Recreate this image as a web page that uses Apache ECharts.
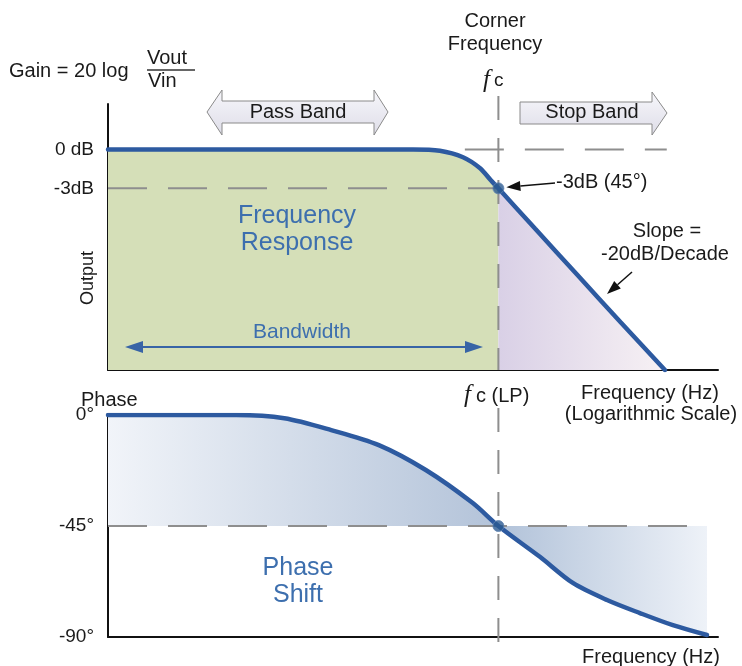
<!DOCTYPE html>
<html><head><meta charset="utf-8">
<script src="https://cdn.jsdelivr.net/npm/echarts@6/dist/echarts.min.js"></script>
<style>html,body{margin:0;padding:0;background:#fff}#c{width:742px;height:666px}</style>
</head><body><div id="c"></div>
<script>
// ---- Data (x = position on the logarithmic frequency axis, 0..100; corner frequency fc at 64)
const fc = 64;
const gainX   = [0, 50, 54.4, 58.2, 61.0, 62.8, 64, 70, 77, 84, 91.3];
const gainDb  = [0, 0, -0.1, -0.6, -1.45, -2.4, -3, -6.1, -9.7, -13.3, -17];
const phaseX  = [0, 21, 28.9, 36.6, 44.4, 52.1, 59.8, 64, 70.8, 76.2, 81.8, 87.2, 92.6, 98.2];
const phaseDeg= [0, 0, -1.3, -6.1, -12.2, -22.3, -35.7, -45, -57.5, -68.1, -75, -80.3, -85.2, -89.2];
const gainTicks = [0, -3];
const gainTickLabels = ['0 dB', '-3dB'];
const phaseTicks = [0, -45, -90];
const phaseTickLabels = ['0°', '-45°', '-90°'];
const cornerGain = -3, cornerPhase = -45;
const zeroDbRef = [58.5, 91.6];   // x extent of 0 dB reference
const phaseRefEnd = 98.2;

const FONT = '"Liberation Sans", Arial, sans-serif';
const BLUE = '#2d5aa0';
const TXT = '#1a1a1a';
const TBLUE = '#3d6fae';
const SM = 0.3;

const pair = (xs, ys) => xs.map((x, i) => [x, ys[i]]);
const gain = pair(gainX, gainDb);
const phase = pair(phaseX, phaseDeg);
const gainL = gain.filter(p => p[0] <= fc), gainR = gain.filter(p => p[0] >= fc);
const phaseL = phase.filter(p => p[0] <= fc), phaseR = phase.filter(p => p[0] >= fc);

const chart = echarts.init(document.getElementById('c'), null, {renderer: 'canvas'});
const axisLine = {show: true, onZero: false, lineStyle: {color: '#111', width: 2}};
const G = echarts.graphic.LinearGradient;
const dash = {color: '#8e8e8e', width: 2, type: [39, 21]};

chart.setOption({
  animation: false,
  backgroundColor: '#fff',
  grid: [
    {left: 108, top: 104, width: 610, height: 266},
    {left: 108, top: 415, width: 610, height: 222}
  ],
  xAxis: [0, 1].map(i => ({
    type: 'value', gridIndex: i, min: 0, max: 100, position: 'bottom',
    axisLine, axisTick: {show: false}, axisLabel: {show: false}, splitLine: {show: false}
  })),
  yAxis: [
    {type: 'value', gridIndex: 0, min: -17, max: 3.5, axisLine, axisTick: {show: false}, splitLine: {show: false},
     axisLabel: {customValues: gainTicks, margin: 14, fontSize: 19, fontFamily: FONT, color: TXT,
       formatter: v => gainTickLabels[gainTicks.indexOf(v)] || ''}},
    {type: 'value', gridIndex: 1, min: -90, max: 0, axisLine, axisTick: {show: false}, splitLine: {show: false},
     axisLabel: {customValues: phaseTicks, margin: 14, fontSize: 19, fontFamily: FONT, color: TXT,
       formatter: v => phaseTickLabels[phaseTicks.indexOf(v)] || ''}}
  ],
  series: [
    {type: 'line', xAxisIndex: 0, yAxisIndex: 0, data: gainL, smooth: SM, symbol: 'none',
     lineStyle: {width: 0}, areaStyle: {origin: 'start', color: '#d5dfb8', opacity: 1}, z: 1},
    {type: 'line', xAxisIndex: 0, yAxisIndex: 0, data: gainR, smooth: SM, symbol: 'none',
     lineStyle: {width: 0}, areaStyle: {origin: 'start', opacity: 1,
       color: new G(0, 0, 1, 0, [{offset: 0, color: '#d9d0e6'}, {offset: 1, color: '#f7f1f4'}])}, z: 1},
    {type: 'line', xAxisIndex: 0, yAxisIndex: 0, data: [[0, cornerGain], [fc, cornerGain]], symbol: 'none', lineStyle: dash, z: 3},
    {type: 'line', xAxisIndex: 0, yAxisIndex: 0, data: [[zeroDbRef[0], 0], [zeroDbRef[1], 0]], symbol: 'none', lineStyle: dash, z: 3},
    {type: 'line', xAxisIndex: 0, yAxisIndex: 0, data: gain, smooth: SM, symbol: 'none',
     lineStyle: {color: BLUE, width: 4.5, cap: 'round'}, z: 5},
    {type: 'scatter', xAxisIndex: 0, yAxisIndex: 0, data: [[fc, cornerGain]], symbolSize: 11,
     itemStyle: {color: '#2b5a91', borderColor: '#5f82b0', borderWidth: 1}, z: 6},

    {type: 'line', xAxisIndex: 1, yAxisIndex: 1, data: phaseL, smooth: SM, symbol: 'none',
     lineStyle: {width: 0}, areaStyle: {origin: cornerPhase, opacity: 1,
       color: new G(0, 0, 1, 0, [{offset: 0, color: '#f1f4f9'}, {offset: 1, color: '#b3c3d9'}])}, z: 1},
    {type: 'line', xAxisIndex: 1, yAxisIndex: 1, data: phaseR, smooth: SM, symbol: 'none',
     lineStyle: {width: 0}, areaStyle: {origin: cornerPhase, opacity: 1,
       color: new G(0, 0, 1, 0, [{offset: 0, color: '#b1c2d9'}, {offset: 1, color: '#eef2f8'}])}, z: 1},
    {type: 'line', xAxisIndex: 1, yAxisIndex: 1, data: [[0, cornerPhase], [phaseRefEnd, cornerPhase]], symbol: 'none', lineStyle: dash, z: 3},
    {type: 'line', xAxisIndex: 1, yAxisIndex: 1, data: phase, smooth: SM, symbol: 'none',
     lineStyle: {color: BLUE, width: 4.5, cap: 'round'}, z: 5},
    {type: 'scatter', xAxisIndex: 1, yAxisIndex: 1, data: [[fc, cornerPhase]], symbolSize: 11,
     itemStyle: {color: '#2b5a91', borderColor: '#5f82b0', borderWidth: 1}, z: 6}
  ]
});

// ---- annotations
const pc0 = chart.convertToPixel({gridIndex: 0}, [fc, cornerGain]);
const xTop = chart.convertToPixel({gridIndex: 0}, [0, -17])[1];
const fx = pc0[0];

function txt(text, x, y, o) {
  o = o || {};
  return {type: 'text', z: 100, x, y, rotation: o.rot || 0,
    style: {text, font: o.font || ('20px ' + FONT), fill: o.fill || TXT,
      align: o.align || 'left', verticalAlign: 'middle'}};
}
function arrow(x1, y1, x2, y2, color, w, hl, hw) {
  const a = Math.atan2(y2 - y1, x2 - x1), c = Math.cos(a), s = Math.sin(a);
  const bx = x2 - hl * c, by = y2 - hl * s;
  return [
    {type: 'line', z: 100, shape: {x1, y1, x2: bx, y2: by}, style: {stroke: color, lineWidth: w}},
    {type: 'polygon', z: 100, shape: {points: [[x2, y2], [bx - hw * s, by + hw * c], [bx + hw * s, by - hw * c]]}, style: {fill: color}}
  ];
}
function dblArrow(x1, x2, y, color, w, hl, hw) {
  const m = (x1 + x2) / 2;
  return [...arrow(m, y, x1, y, color, w, hl, hw), ...arrow(m, y, x2, y, color, w, hl, hw)];
}
const bandFill = new G(0, 0, 0, 1, [{offset: 0, color: '#f7f7fb'}, {offset: 1, color: '#dedde8'}]);

const gfx = [
  // vertical corner-frequency line
  {type: 'line', z: 4, shape: {x1: fx, y1: 96, x2: fx, y2: xTop}, style: {stroke: '#8e8e8e', lineWidth: 2, lineDash: [24, 18]}},
  {type: 'line', z: 4, shape: {x1: fx, y1: 408, x2: fx, y2: 649}, style: {stroke: '#8e8e8e', lineWidth: 2, lineDash: [24, 18]}},
  // pass band / stop band arrows
  {type: 'polygon', z: 90, shape: {points: [[207,112],[222,90],[222,101],[374,101],[374,90],[388,112],[374,135],[374,123],[222,123],[222,135]]},
   style: {fill: bandFill, stroke: '#8a8a8a', lineWidth: 1}},
  {type: 'polygon', z: 90, shape: {points: [[520,102],[652,102],[652,92],[667,113],[652,135],[652,124],[520,124]]},
   style: {fill: bandFill, stroke: '#8a8a8a', lineWidth: 1}},
  txt('Pass Band', 298, 112, {align: 'center'}),
  txt('Stop Band', 592, 112, {align: 'center'}),
  // top texts
  txt('Corner', 495, 21, {align: 'center'}),
  txt('Frequency', 495, 44, {align: 'center'}),
  txt('f', 483, 80, {font: 'italic 25px "Liberation Serif", serif'}),
  txt('c', 494, 81, {font: '19px ' + FONT}),
  txt('Gain = 20 log', 9, 71),
  txt('Vout', 147, 58),
  {type: 'line', z: 100, shape: {x1: 147, y1: 70, x2: 195, y2: 70}, style: {stroke: '#333', lineWidth: 1.5}},
  txt('Vin', 148, 81),
  // top panel
  {type: 'text', z: 100, x: 88, y: 278, rotation: Math.PI / 2,
   style: {text: 'Output', font: '18px ' + FONT, fill: TXT, align: 'center', verticalAlign: 'middle'}},
  txt('Frequency', 297, 216, {align: 'center', font: '25px ' + FONT, fill: TBLUE}),
  txt('Response', 297, 243, {align: 'center', font: '25px ' + FONT, fill: TBLUE}),
  txt('Bandwidth', 302, 332, {align: 'center', font: '21px ' + FONT, fill: TBLUE}),
  ...dblArrow(125, 483, 347, '#3864a6', 2, 18, 6),
  txt('-3dB (45°)', 556, 182),
  ...arrow(555, 183, pc0[0] + 8, pc0[1] - 1, '#111', 1.5, 14, 5),
  txt('Slope =', 667, 231, {align: 'center'}),
  txt('-20dB/Decade', 665, 254, {align: 'center'}),
  ...arrow(632, 272, 607, 294, '#111', 1.5, 14, 5),
  txt('f', 464, 395, {font: 'italic 25px "Liberation Serif", serif'}),
  txt('c (LP)', 476, 396),
  txt('Frequency (Hz)', 650, 393, {align: 'center'}),
  txt('(Logarithmic Scale)', 651, 414, {align: 'center'}),
  // bottom panel
  txt('Phase', 81, 400),
  txt('Phase', 298, 568, {align: 'center', font: '25px ' + FONT, fill: TBLUE}),
  txt('Shift', 298, 595, {align: 'center', font: '25px ' + FONT, fill: TBLUE}),
  txt('Frequency (Hz)', 651, 657, {align: 'center'})
];
chart.setOption({graphic: gfx});
</script></body></html>
